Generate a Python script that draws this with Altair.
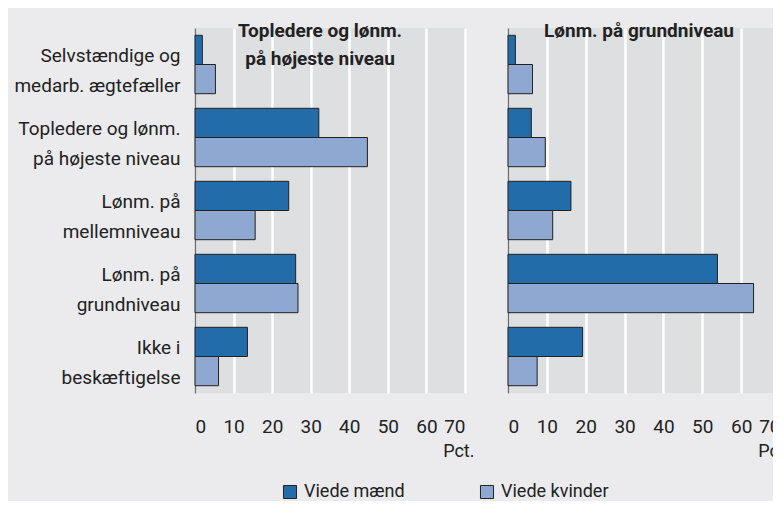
import altair as alt
import pandas as pd

categories = [
    "Selvstændige og|medarb. ægtefæller",
    "Topledere og lønm.|på højeste niveau",
    "Lønm. på|mellemniveau",
    "Lønm. på|grundniveau",
    "Ikke i|beskæftigelse",
]
series = ["Viede mænd", "Viede kvinder"]
panels = ["Topledere og lønm.|på højeste niveau", "Lønm. på grundniveau"]

left_men = [1.9, 32.1, 24.3, 26.1, 13.6]
left_women = [5.3, 44.7, 15.6, 26.7, 6.1]
right_men = [1.9, 6.0, 16.2, 53.9, 19.2]
right_women = [6.3, 9.6, 11.5, 63.2, 7.5]

colors = ["#226CA9", "#8EA8D1"]
x_ticks = [0, 10, 20, 30, 40, 50, 60, 70]

rows = []
for p, (m, w) in zip(panels, [(left_men, left_women), (right_men, right_women)]):
    for c, vm, vw in zip(categories, m, w):
        rows.append({"panel": p, "cat": c, "serie": series[0], "value": vm})
        rows.append({"panel": p, "cat": c, "serie": series[1], "value": vw})
df = pd.DataFrame(rows)

FONT = "Roboto"
TXT = "#222222"


def panel_chart(p, width, show_labels, title_x):
    base = alt.Chart(df).transform_filter(alt.datum.panel == p)
    y_axis = alt.Axis(
        title=None,
        ticks=False,
        grid=False,
        domain=True,
        domainColor="#6E6E70",
        domainWidth=1.5,
        labels=show_labels,
        labelExpr="split(datum.label, '|')",
        labelAlign="right",
        labelFontSize=19,
        labelLineHeight=30,
        labelPadding=15,
        labelOffset=-9,
        labelColor=TXT,
        labelFont=FONT,
        labelLimit=300,
    )
    x_axis = alt.Axis(
        title="Pct.",
        values=x_ticks,
        ticks=False,
        domain=False,
        grid=True,
        gridColor="#FFFFFF",
        gridWidth=2.5,
        labelFontSize=19,
        labelFont=FONT,
        labelColor=TXT,
        labelPadding=24,
        titleFont=FONT,
        titleFontSize=18,
        titleFontWeight="normal",
        titleColor=TXT,
        titleAnchor="end",
        titleAlign="right",
        titleBaseline="middle",
        titleX=width + 9,
        titleY=58,
    )
    bars = base.mark_bar(stroke="#222222", strokeWidth=1).encode(
        y=alt.Y(
            "cat:N",
            sort=categories,
            axis=y_axis,
            scale=alt.Scale(paddingInner=0.2, paddingOuter=0.1),
        ),
        yOffset=alt.YOffset("serie:N", sort=series),
        x=alt.X("value:Q", scale=alt.Scale(domain=[0, 70], nice=False), axis=x_axis),
        color=alt.Color(
            "serie:N",
            sort=series,
            scale=alt.Scale(domain=series, range=colors),
            legend=alt.Legend(
                title=None,
                orient="none",
                direction="horizontal",
                legendX=86,
                legendY=455,
                symbolType="square",
                symbolSize=170,
                symbolStrokeColor="#222222",
                symbolStrokeWidth=1,
                symbolOpacity=1,
                labelFontSize=18,
                labelFont=FONT,
                labelColor=TXT,
                labelOffset=5,
                columnPadding=73,
            ),
        ),
    )
    title = alt.Chart(pd.DataFrame({"t": [p]})).mark_text(
        lineBreak="|",
        font=FONT,
        fontSize=19,
        fontWeight="bold",
        color=TXT,
        align="center",
        baseline="top",
        lineHeight=28,
    ).encode(text="t:N", x=alt.value(title_x), y=alt.value(-6))
    return alt.layer(bars, title).properties(width=width, height=365)


left = panel_chart(panels[0], 270, True, 125)
right = panel_chart(panels[1], 272, False, 131)

chart = (
    alt.hconcat(left, right, spacing=33)
    .properties(background="#EBEBED", padding={"left": 5, "top": 14, "right": -16, "bottom": 0})
    .configure_view(fill="#DEDFE1", stroke=None)
)

chart.save("out.html", embed_options={"renderer": "svg", "actions": False})
